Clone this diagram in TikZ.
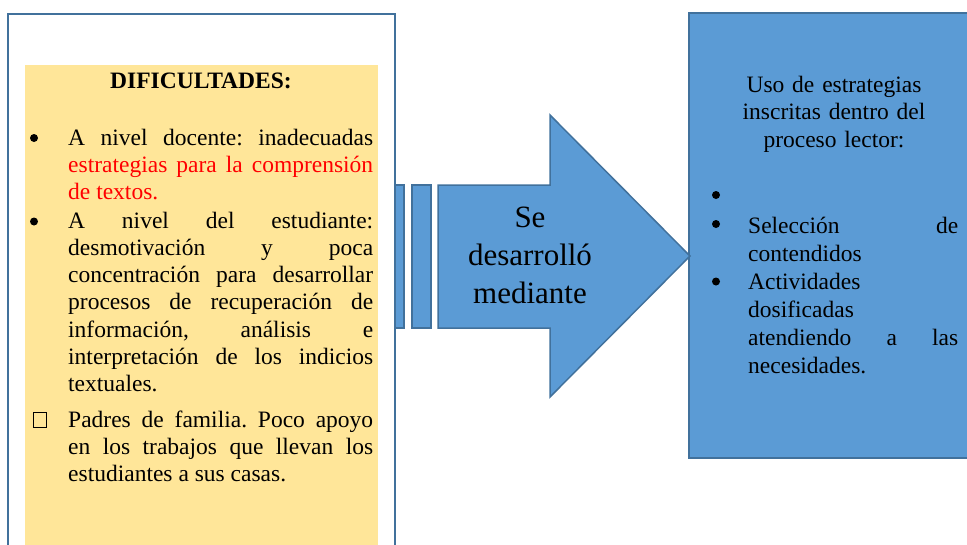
\documentclass[tikz,border=0pt]{standalone}
\usepackage{fontspec}
\setmainfont{Liberation Serif}
\usepackage{tikz}

\definecolor{edgeblue}{HTML}{41719C}
\definecolor{fillblue}{HTML}{5B9BD5}
\definecolor{sand}{HTML}{FFE699}
\tolerance=10000
\hyphenpenalty=10000
\frenchspacing

\begin{document}
\begin{tikzpicture}[x=1pt,y=-1pt]
		\tikzset{
			wbox/.style={
				draw=edgeblue, line width=2pt, fill=white
			},
			abox/.style={
				wbox, fill=fillblue
			},
			ptext/.style={
				anchor=base west, inner sep=0pt, text width=305pt, align=justify,
				font=\fontsize{23.5}{27.3}\selectfont
			},
			rtext/.style={
				ptext, text width=210pt, font=\fontsize{23.5}{28}\selectfont
			},
			ctext/.style={
				anchor=base, inner sep=0pt, align=center,
				font=\fontsize{23.5}{27.5}\selectfont
			},
			bul/.style={
				circle, fill=black, inner sep=0pt, minimum size=8pt
			}
		}
		
		\clip (0,0) rectangle (967,544);
		
		\draw [wbox] (8,14) rectangle (395,600);
		\fill [sand] (25,65) rectangle (378,600);
		\draw [abox] (689,13) rectangle (1000,458);
		
		\foreach \a/\b in {395/404, 412/431}{
			\draw [abox, line width=1.5pt] (\a,185) rectangle (\b,328);
		}
		\draw [abox, line width=1.5pt] (438,185) -- (550,185) -- (550,115) -- (690,256)
			-- (550,397) -- (550,328) -- (438,328) -- cycle;
		
		\node [ctext, text width=200pt, font=\fontsize{23.5}{27.3}\bfseries] (title) at (201,88) {DIFICULTADES:};
		
		\node [bul] (b1) at (34,138) {};
		\node [ptext] (doc) at (68,145) {A nivel docente: inadecuadas\linebreak
			\textcolor{red}{estrategias para la comprensión\linebreak de textos.}};
		\node [bul] (b2) at (34,221.5) {};
		\node [ptext] (est) at (68,228) {A nivel del estudiante:\linebreak
			desmotivación y poca\linebreak concentración para desarrollar\linebreak
			procesos de recuperación de\linebreak información, análisis e\linebreak
			interpretación de los indicios\linebreak textuales.};
		\node [draw, line width=0.6pt, inner sep=0pt, minimum width=13pt, minimum height=15pt] (b3) at (40,419.5) {};
		\node [ptext] (pad) at (68,427) {Padres de familia. Poco apoyo\linebreak
			en los trabajos que llevan los\linebreak estudiantes a sus casas.};
		
		\node [ctext, text width=160pt, font=\fontsize{31}{38}\selectfont] (mid) at (530,227) {Se\\desarrolló\\mediante};
		
		\node [ctext, text width=220pt] (uso) at (834,92) {Uso de estrategias\\inscritas dentro del\\proceso lector:};
		\node [bul] (r1) at (716,195) {};
		\node [bul] (r2) at (716,224) {};
		\node [rtext] (sel) at (748,233) {Selección de\linebreak contendidos};
		\node [bul] (r3) at (716,281.5) {};
		\node [rtext] (act) at (748,289) {Actividades\newline dosificadas\newline
			atendiendo a las\linebreak necesidades.};
\end{tikzpicture}
\end{document}
